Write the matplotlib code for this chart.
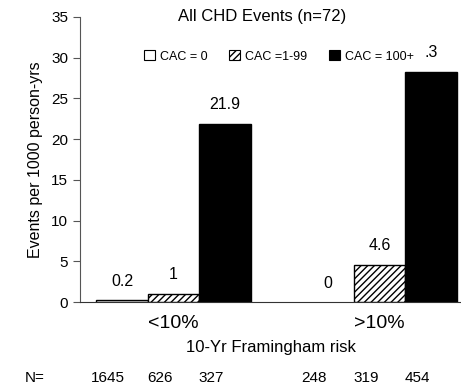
import numpy as np
import matplotlib.pyplot as plt
from matplotlib.patches import Patch

# data
risk_groups = ['<10%', '>10%']
cac_labels = ['CAC = 0', 'CAC =1-99', 'CAC = 100+']
rates_low = [0.2, 1.0, 21.9]
rates_high = [0.0, 4.6, 28.3]
bar_text_low = ['0.2', '1', '21.9']
bar_text_high = ['0', '4.6', '.3']
n_low = [1645, 626, 327]
n_high = [248, 319, 454]

plt.rcParams['font.family'] = ['Liberation Sans', 'DejaVu Sans']
plt.rcParams['hatch.linewidth'] = 1.0

fig = plt.figure(figsize=(4.61, 3.84), dpi=100)
ax = fig.add_axes([80 / 461, 1 - 302 / 384, 1 - 80 / 461, (302 - 17) / 384])

faces = ['white', 'white', 'black']
hatches = [None, '/////', None]
x_low = np.arange(3)
x_high = np.arange(3) + 4

for xs, vals, texts in [(x_low, rates_low, bar_text_low), (x_high, rates_high, bar_text_high)]:
    for x, v, t, fc, h in zip(xs, vals, texts, faces, hatches):
        if v > 0:
            ax.bar(x, v, width=1.0, color=fc, edgecolor='black', hatch=h, linewidth=1.0)
        ax.text(x, v + 1.4, t, ha='center', va='bottom', fontsize=11.5)

ax.set_xlim(-0.815, 6.58)
ax.set_ylim(0, 35)
ax.set_yticks(np.arange(0, 36, 5))
ax.tick_params(axis='y', labelsize=11, length=5, width=0.8, color='#555555')
ax.set_xticks([1, 5])
ax.set_xticklabels(risk_groups, fontsize=14)
ax.tick_params(axis='x', length=0, pad=9)
for s in ['top', 'right']:
    ax.spines[s].set_visible(False)
ax.spines['left'].set_color('#555555')
ax.spines['bottom'].set_color('#333333')

ax.set_ylabel('Events per 1000 person-yrs', fontsize=11.5, labelpad=6)
ax.set_xlabel('10-Yr Framingham risk', fontsize=12, labelpad=6)
ax.text(0.478, 1.0, 'All CHD Events (n=72)', transform=ax.transAxes, ha='center', va='center', fontsize=12)

handles = [Patch(facecolor=fc, edgecolor='black', hatch=h, linewidth=0.8) for fc, h in zip(faces, hatches)]
ax.legend(handles, cac_labels, loc='center', bbox_to_anchor=(0.522, 0.862), ncol=3, frameon=False,
          fontsize=9, handlelength=0.9, handleheight=0.9, handletextpad=0.4, columnspacing=1.7)

# N= row
fig.text(25 / 461, 1 - 378 / 384, 'N=', fontsize=11, va='center')
for x, n in zip(np.concatenate([x_low, x_high]), n_low + n_high):
    xd = ax.transData.transform((x, 0))[0]
    xf = fig.transFigure.inverted().transform((xd, 0))[0]
    fig.text(xf - 0.03, 1 - 378 / 384, str(n), fontsize=11, va='center', ha='center')

fig.savefig('out.png', dpi=100)
